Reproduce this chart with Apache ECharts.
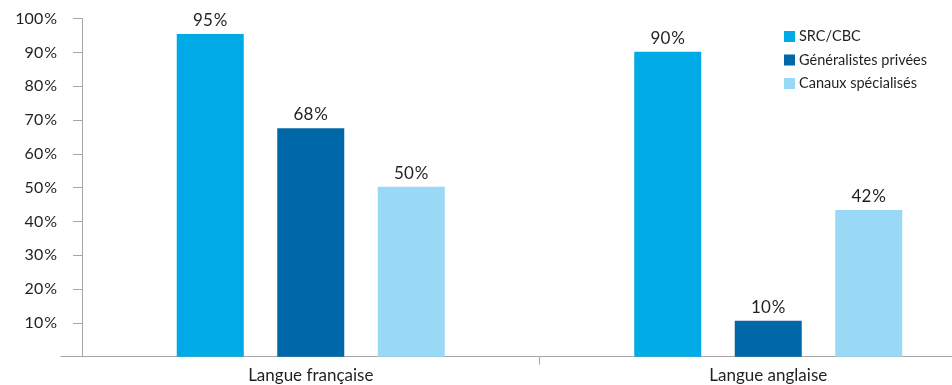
<!DOCTYPE html>
<html>
<head>
<meta charset="utf-8">
<style>
  html, body { margin: 0; padding: 0; background: #fff; overflow: hidden; }
  /* the original plot is cropped on the right: draw wider and let the window cut it */
  #chart { width: 1000px; height: 385px; }
</style>
<script src="https://cdn.jsdelivr.net/npm/echarts@6/dist/echarts.min.js"></script>
</head>
<body>
<div id="chart"></div>
<script>
// categories and series
const categories = ['Langue française', 'Langue anglaise'];
const seriesNames = ['SRC/CBC', 'Généralistes privées', 'Canaux spécialisés'];
const src = [95.5, 90.2];
const privees = [67.6, 10.6];
const specialises = [50.3, 43.4];
// printed labels above the bars
const srcLabels = ['95', '90'];
const priveesLabels = ['68', '10'];
const specialisesLabels = ['50', '42'];
const yTicks = [0, 10, 20, 30, 40, 50, 60, 70, 80, 90, 100];

const chart = echarts.init(document.getElementById('chart'));
const textColor = '#231f20';
const axisColor = '#a6a6a6';
const font = 'Lato';
const pct = '\u200a%';

function barSeries(name, values, labels, color) {
    return {
        name: name,
        type: 'bar',
        data: values,
        barWidth: 67,
        barGap: '50%',
        itemStyle: { color: color },
        label: {
            show: true,
            position: 'top',
            distance: 5,
            color: textColor,
            fontFamily: font,
            fontSize: 17,
            formatter: function (p) { return labels[p.dataIndex] + pct; }
        }
    };
}

const option = {
    animation: false,
    textStyle: { fontFamily: font },
    legend: {
        orient: 'vertical',
        left: 779,
        top: 24,
        itemWidth: 11,
        itemHeight: 11,
        itemGap: 8.5,
        icon: 'rect',
        textStyle: { color: textColor, fontSize: 14.5, fontFamily: font, padding: [0, 0, 0, -1] },
        data: seriesNames
    },
    grid: [
        { left: 82, width: 915, top: 18.7, bottom: 28.3 },
        { left: 61, width: 21, top: 18.7, bottom: 28.3 }
    ],
    xAxis: [{
        type: 'category',
        data: categories,
        axisLine: { lineStyle: { color: axisColor, width: 1 } },
        axisTick: { show: false },
        axisLabel: { color: textColor, fontSize: 17, fontFamily: font, margin: 10 }
    }, {
        // overlay axis for the single divider tick between the two groups
        type: 'value',
        min: 0,
        max: categories.length,
        position: 'bottom',
        axisLine: { show: false },
        axisTick: { show: true, length: 8, lineStyle: { color: axisColor }, customValues: [1] },
        axisLabel: { show: false },
        splitLine: { show: false }
    }, {
        gridIndex: 1,
        type: 'category',
        data: [''],
        axisLine: { lineStyle: { color: axisColor, width: 1 } },
        axisTick: { show: false },
        axisLabel: { show: false }
    }],
    yAxis: [{
        type: 'value',
        min: yTicks[0],
        max: yTicks[yTicks.length - 1],
        interval: 10,
        offset: 12,
        axisLine: { show: true, lineStyle: { color: axisColor, width: 1 } },
        axisTick: { show: true, length: 9, lineStyle: { color: axisColor } },
        splitLine: { show: false },
        axisLabel: {
            color: textColor,
            fontSize: 16,
            fontFamily: font,
            margin: 13,
            formatter: function (v) { return v === 0 ? '' : v + pct; }
        }
    }, {
        gridIndex: 1,
        type: 'value',
        show: false
    }],
    series: [
        barSeries(seriesNames[0], src, srcLabels, '#00aae7'),
        barSeries(seriesNames[1], privees, priveesLabels, '#0067a8'),
        barSeries(seriesNames[2], specialises, specialisesLabels, '#99d9f5')
    ]
};

chart.setOption(option);
</script>
</body>
</html>
